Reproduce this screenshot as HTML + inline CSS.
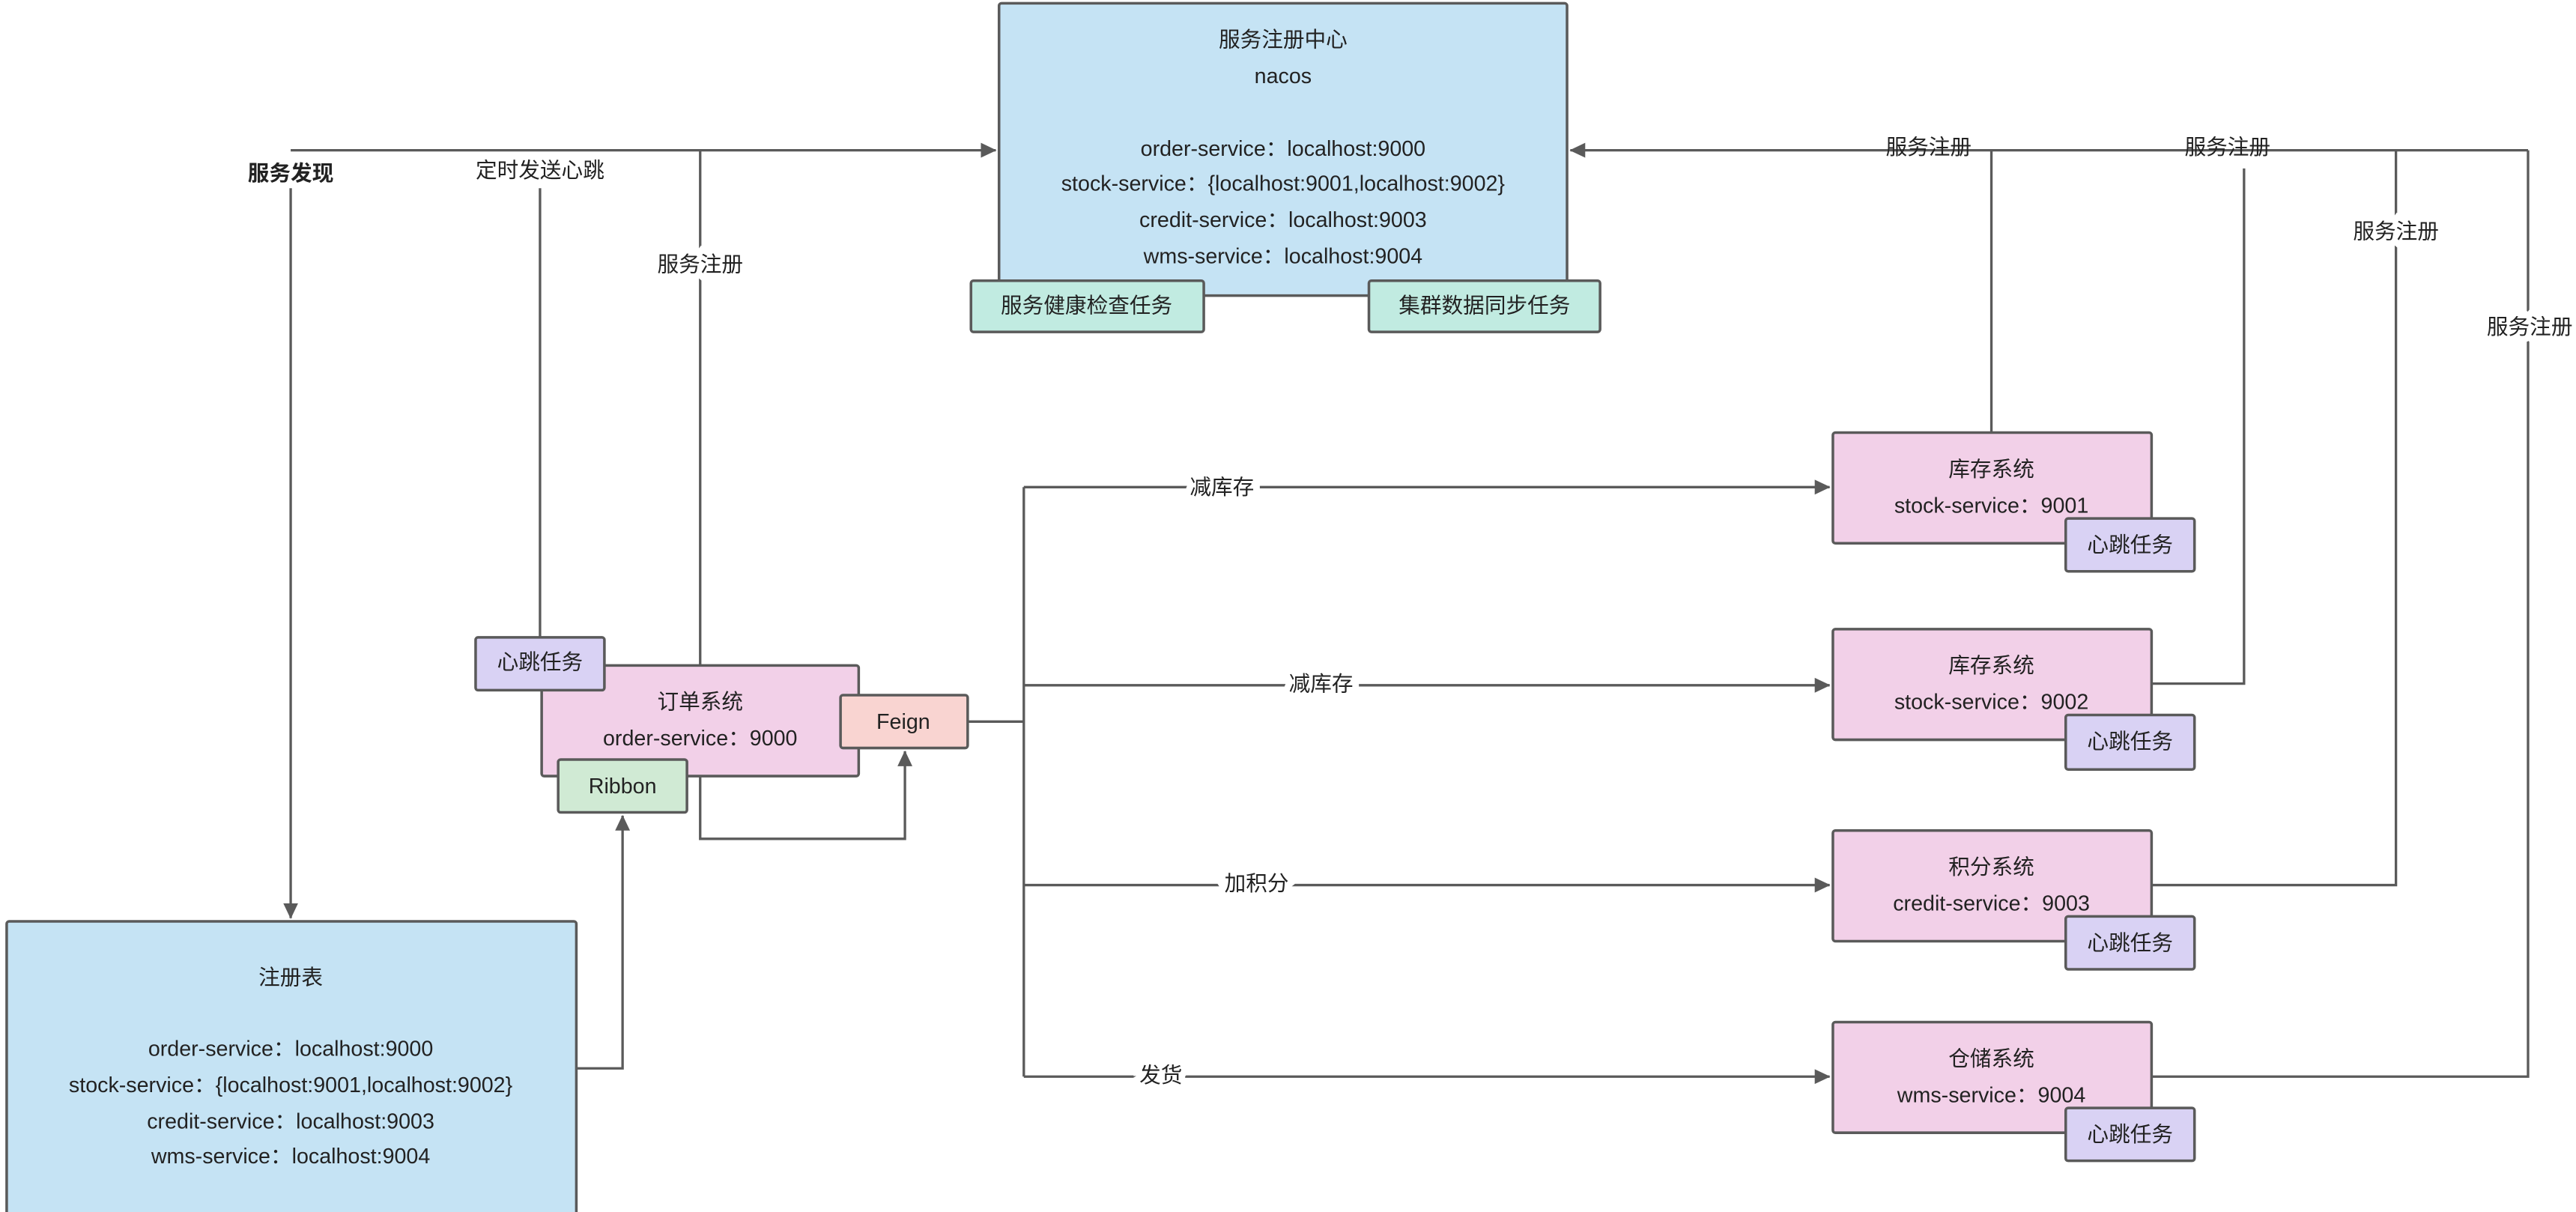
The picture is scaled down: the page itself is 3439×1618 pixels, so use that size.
<!DOCTYPE html>
<html><head><meta charset="utf-8"><style>
html,body{margin:0;padding:0;background:#fff;}
svg{display:block;}
text{font-family:"Liberation Sans","Noto Sans CJK SC",sans-serif;fill:#222;font-size:13px;text-anchor:middle;dominant-baseline:middle;}
.b{fill:none;stroke:#5a5a5a;stroke-width:1.6;}
.l{fill:none;stroke:#5a5a5a;stroke-width:1.5;}
.w{stroke:#fff;stroke-width:8;paint-order:stroke;}
</style></head><body>
<svg width="3439" height="1618" viewBox="0 0 1560 734" xmlns="http://www.w3.org/2000/svg">
<defs><marker id="a" markerWidth="10" markerHeight="10" refX="9" refY="5" orient="auto" markerUnits="userSpaceOnUse"><path d="M0,0.5 L9.5,5 L0,9.5 z" fill="#5a5a5a"/></marker></defs>

<!-- connectors -->
<path class="l" d="M176,91 L603,91" marker-end="url(#a)"/>
<path class="l" d="M176,114 L176,556" marker-end="url(#a)"/>
<path class="l" d="M327,114 L327,386"/>
<path class="l" d="M424,91 L424,403"/>
<path class="l" d="M1531,91 L951,91" marker-end="url(#a)"/>
<path class="l" d="M1206,91 L1206,262"/>
<path class="l" d="M1303,414 L1359,414 L1359,102"/>
<path class="l" d="M1303,536 L1451,536 L1451,91"/>
<path class="l" d="M1303,652 L1531,652 L1531,91"/>
<path class="l" d="M349,647 L377,647 L377,494" marker-end="url(#a)"/>
<path class="l" d="M424,470 L424,508 L548,508 L548,455" marker-end="url(#a)"/>
<path class="l" d="M586,437 L620,437"/>
<path class="l" d="M620,295 L620,652"/>
<path class="l" d="M620,295 L1108,295" marker-end="url(#a)"/>
<path class="l" d="M620,415 L1108,415" marker-end="url(#a)"/>
<path class="l" d="M620,536 L1108,536" marker-end="url(#a)"/>
<path class="l" d="M620,652 L1108,652" marker-end="url(#a)"/>

<!-- edge labels -->
<text x="176" y="106" style="font-weight:bold">服务发现</text>
<text x="327" y="104">定时发送心跳</text>
<text x="424" y="161" class="w">服务注册</text>
<text x="740" y="296" class="w">减库存</text>
<text x="800" y="415" class="w">减库存</text>
<text x="761" y="536" class="w">加积分</text>
<text x="703" y="652" class="w">发货</text>
<text x="1168" y="90">服务注册</text>
<text x="1349" y="90">服务注册</text>
<text x="1451" y="141" class="w">服务注册</text>
<text x="1532" y="199" class="w">服务注册</text>

<!-- nacos -->
<rect x="605" y="2" width="344" height="177" rx="1.5" fill="#c5e3f4" class="b" style="fill:#c5e3f4"/>
<text x="777" y="25">服务注册中心</text>
<text x="777" y="47">nacos</text>
<text x="777" y="91">order-service：localhost:9000</text>
<text x="777" y="112">stock-service：{localhost:9001,localhost:9002}</text>
<text x="777" y="134">credit-service：localhost:9003</text>
<text x="777" y="156">wms-service：localhost:9004</text>
<rect x="588" y="170" width="141" height="31" rx="1.5" class="b" style="fill:#c1ebe1"/>
<text x="658" y="186">服务健康检查任务</text>
<rect x="829" y="170" width="140" height="31" rx="1.5" class="b" style="fill:#c1ebe1"/>
<text x="899" y="186">集群数据同步任务</text>

<!-- registry table -->
<rect x="4" y="558" width="345" height="178" rx="1.5" class="b" style="fill:#c5e3f4"/>
<text x="176" y="593">注册表</text>
<text x="176" y="636">order-service：localhost:9000</text>
<text x="176" y="658">stock-service：{localhost:9001,localhost:9002}</text>
<text x="176" y="680">credit-service：localhost:9003</text>
<text x="176" y="701">wms-service：localhost:9004</text>

<!-- order system -->
<rect x="328" y="403" width="192" height="67" rx="1.5" class="b" style="fill:#f2d0e8"/>
<text x="424" y="426">订单系统</text>
<text x="424" y="448">order-service：9000</text>
<rect x="288" y="386" width="78" height="32" rx="1.5" class="b" style="fill:#d9d2f4"/>
<text x="327" y="402">心跳任务</text>
<rect x="338" y="460" width="78" height="32" rx="1.5" class="b" style="fill:#d0ead4"/>
<text x="377" y="477">Ribbon</text>
<rect x="509" y="421" width="77" height="32" rx="1.5" class="b" style="fill:#f9d4d1"/>
<text x="547" y="438">Feign</text>

<!-- services -->
<rect x="1110" y="262" width="193" height="67" rx="1.5" class="b" style="fill:#f2d0e8"/>
<text x="1206" y="285">库存系统</text>
<text x="1206" y="307">stock-service：9001</text>
<rect x="1251" y="314" width="78" height="32" rx="1.5" class="b" style="fill:#d9d2f4"/>
<text x="1290" y="331">心跳任务</text>

<rect x="1110" y="381" width="193" height="67" rx="1.5" class="b" style="fill:#f2d0e8"/>
<text x="1206" y="404">库存系统</text>
<text x="1206" y="426">stock-service：9002</text>
<rect x="1251" y="433" width="78" height="33" rx="1.5" class="b" style="fill:#d9d2f4"/>
<text x="1290" y="450">心跳任务</text>

<rect x="1110" y="503" width="193" height="67" rx="1.5" class="b" style="fill:#f2d0e8"/>
<text x="1206" y="526">积分系统</text>
<text x="1206" y="548">credit-service：9003</text>
<rect x="1251" y="555" width="78" height="32" rx="1.5" class="b" style="fill:#d9d2f4"/>
<text x="1290" y="572">心跳任务</text>

<rect x="1110" y="619" width="193" height="67" rx="1.5" class="b" style="fill:#f2d0e8"/>
<text x="1206" y="642">仓储系统</text>
<text x="1206" y="664">wms-service：9004</text>
<rect x="1251" y="671" width="78" height="32" rx="1.5" class="b" style="fill:#d9d2f4"/>
<text x="1290" y="688">心跳任务</text>
</svg>
</body></html>
